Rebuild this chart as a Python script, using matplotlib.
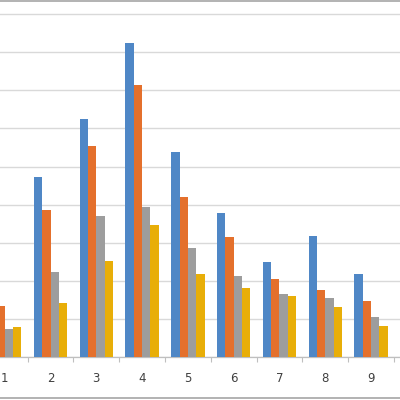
import matplotlib
matplotlib.use("Agg")
import matplotlib.pyplot as plt
import numpy as np
from matplotlib.lines import Line2D

categories = ["1", "2", "3", "4", "5", "6", "7", "8", "9"]
series_a = [2.1, 4.73, 6.24, 8.24, 5.39, 3.77, 2.50, 3.18, 2.17]
series_b = [1.34, 3.86, 5.53, 7.14, 4.19, 3.15, 2.04, 1.75, 1.46]
series_c = [0.72, 2.23, 3.69, 3.93, 2.87, 2.13, 1.64, 1.55, 1.04]
series_d = [0.79, 1.40, 2.52, 3.45, 2.17, 1.80, 1.59, 1.30, 0.80]
colors = ["#4F87C6", "#E4702C", "#9D9D9D", "#E8AE08"]

fig = plt.figure(figsize=(4, 4), dpi=100)
ax = fig.add_axes([0, 0.10825, 1, 0.89175])

x = np.arange(1, len(categories) + 1)
w = 1 / 5.5
for k, vals in enumerate([series_a, series_b, series_c, series_d]):
    ax.bar(x + (k - 1.5) * w, vals, width=w, color=colors[k], zorder=3)

ax.set_yticks(range(0, 10))
ax.yaxis.grid(True, color="#D9D9D9", linewidth=1.0, zorder=0)
ax.tick_params(axis="y", length=0, labelleft=False)

ax.set_xticks(x)
ax.set_xticklabels(categories, fontsize=8.5, color="#404040")
ax.set_xticks(x + 0.5, minor=True)
ax.tick_params(axis="x", which="major", length=0, pad=11)
ax.tick_params(axis="x", which="minor", length=3.6, color="#BFBFBF", width=0.8)

ax.set_xlim(0.8951, 9.6346)
ax.set_ylim(0, 9.377)

for s in ["top", "left", "right"]:
    ax.spines[s].set_visible(False)
ax.spines["bottom"].set_color("#BFBFBF")
ax.spines["bottom"].set_linewidth(0.9)
ax.set_facecolor("white")

fig.add_artist(Line2D([0, 1], [0.9975, 0.9975], transform=fig.transFigure,
                      color="#A6A6A6", linewidth=1.2))
fig.add_artist(Line2D([0, 1], [0.006, 0.006], transform=fig.transFigure,
                      color="#A6A6A6", linewidth=1.2))

fig.savefig("out.png", dpi=100, facecolor="white")
